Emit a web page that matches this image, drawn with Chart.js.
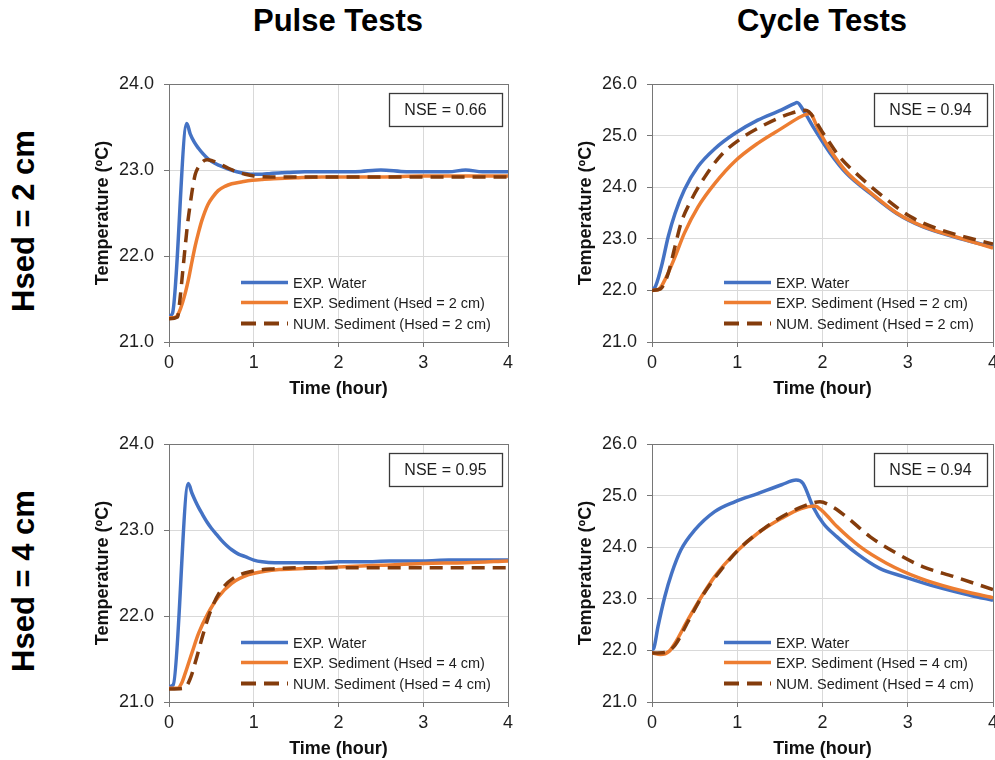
<!DOCTYPE html>
<html><head><meta charset="utf-8">
<script src="https://cdn.jsdelivr.net/npm/chart.js@4/dist/chart.umd.min.js"></script>
<style>
html,body{margin:0;padding:0;background:#fff;}
body{width:995px;height:760px;position:relative;overflow:hidden;font-family:'Liberation Sans',Arial,sans-serif;}
.panel{position:absolute;}
.panel canvas{display:block;}
.title{position:absolute;width:300px;height:40px;line-height:40px;text-align:center;font-weight:bold;font-size:31px;color:#000;white-space:nowrap;}
.row{position:absolute;width:300px;height:40px;line-height:40px;text-align:center;font-weight:bold;font-size:31px;color:#000;transform:rotate(-90deg);white-space:nowrap;}
</style></head><body>
<div class="title" style="left:188px;top:1px">Pulse Tests</div>
<div class="title" style="left:672px;top:1px">Cycle Tests</div>
<div class="row" style="left:-126px;top:201px">Hsed = 2 cm</div>
<div class="row" style="left:-126px;top:561px">Hsed = 4 cm</div>
<div class="panel" style="left:90px;top:70px"><canvas id="c1" width="430" height="330"></canvas></div>
<div class="panel" style="left:573px;top:70px"><canvas id="c2" width="422" height="330"></canvas></div>
<div class="panel" style="left:90px;top:430px"><canvas id="c3" width="430" height="330"></canvas></div>
<div class="panel" style="left:573px;top:430px"><canvas id="c4" width="422" height="330"></canvas></div>
<script>
// ---------- DATA ----------
const xTicks = [0, 1, 2, 3, 4];
const pulseYTicks = [21.0, 22.0, 23.0, 24.0];
const cycleYTicks = [21.0, 22.0, 23.0, 24.0, 25.0, 26.0];

// Pulse test, Hsed = 2 cm
const p2WaterT = [0, 0.04, 0.21, 0.25, 0.3, 0.35, 0.4, 0.45, 0.5, 0.6, 0.7, 0.8, 0.9, 1.0, 1.1, 1.2, 1.4, 1.6, 1.8, 2.0, 2.2, 2.5, 2.8, 3.0, 3.3, 3.5, 3.7, 4.0];
const p2Water  = [21.30, 21.33, 23.54, 23.42, 23.32, 23.25, 23.19, 23.14, 23.10, 23.05, 23.01, 22.98, 22.96, 22.95, 22.95, 22.96, 22.97, 22.98, 22.98, 22.98, 22.98, 23.00, 22.98, 22.98, 22.98, 23.00, 22.98, 22.98];
const p2SedT = [0, 0.08, 0.12, 0.16, 0.2, 0.23, 0.27, 0.31, 0.35, 0.39, 0.46, 0.52, 0.58, 0.66, 0.74, 0.85, 0.98, 1.1, 1.3, 1.5, 1.8, 2.0, 2.5, 3.0, 3.5, 4.0];
const p2Sed  = [21.28, 21.29, 21.35, 21.46, 21.60, 21.73, 21.93, 22.12, 22.28, 22.42, 22.60, 22.69, 22.76, 22.81, 22.84, 22.86, 22.88, 22.89, 22.90, 22.91, 22.92, 22.92, 22.92, 22.93, 22.93, 22.93];
const p2NumT = [0, 0.1, 0.13, 0.16, 0.19, 0.22, 0.25, 0.28, 0.31, 0.35, 0.4, 0.45, 0.5, 0.6, 0.7, 0.8, 0.9, 1.0, 1.2, 1.5, 2.0, 2.5, 3.0, 3.5, 4.0];
const p2Num  = [21.27, 21.29, 21.50, 21.80, 22.10, 22.38, 22.60, 22.80, 22.95, 23.04, 23.10, 23.12, 23.11, 23.07, 23.02, 22.98, 22.95, 22.93, 22.92, 22.92, 22.92, 22.92, 22.92, 22.92, 22.92];

// Pulse test, Hsed = 4 cm
const p4WaterT = [0, 0.05, 0.228, 0.27, 0.31, 0.35, 0.39, 0.45, 0.5, 0.56, 0.62, 0.68, 0.74, 0.82, 0.9, 1.0, 1.1, 1.25, 1.4, 1.6, 1.8, 2.0, 2.3, 2.6, 3.0, 3.3, 3.6, 4.0];
const p4Water  = [21.18, 21.20, 23.54, 23.43, 23.34, 23.26, 23.19, 23.09, 23.02, 22.95, 22.88, 22.82, 22.77, 22.72, 22.69, 22.65, 22.63, 22.62, 22.62, 22.62, 22.62, 22.63, 22.63, 22.64, 22.64, 22.65, 22.65, 22.65];
const p4SedT = [0, 0.1, 0.15, 0.19, 0.27, 0.35, 0.46, 0.58, 0.74, 0.94, 1.13, 1.3, 1.53, 1.8, 2.0, 2.5, 3.0, 3.5, 4.0];
const p4Sed  = [21.16, 21.16, 21.22, 21.33, 21.57, 21.80, 22.03, 22.22, 22.38, 22.48, 22.52, 22.54, 22.55, 22.56, 22.57, 22.59, 22.61, 22.62, 22.64];
const p4NumT = [0, 0.18, 0.25, 0.33, 0.4, 0.48, 0.6, 0.76, 0.98, 1.25, 1.5, 2.0, 2.5, 3.0, 3.5, 4.0];
const p4Num  = [21.15, 21.16, 21.27, 21.53, 21.78, 22.03, 22.28, 22.44, 22.52, 22.55, 22.56, 22.56, 22.56, 22.56, 22.56, 22.56];

// Cycle test, Hsed = 2 cm
const c2WaterT = [0, 0.03, 0.11, 0.19, 0.27, 0.38, 0.54, 0.74, 0.97, 1.24, 1.52, 1.67, 1.70, 1.79, 1.89, 2.09, 2.28, 2.56, 2.87, 3.18, 3.54, 4.0];
const c2Water  = [22.03, 22.05, 22.46, 23.04, 23.49, 23.95, 24.40, 24.75, 25.04, 25.30, 25.50, 25.62, 25.64, 25.45, 25.17, 24.66, 24.27, 23.88, 23.49, 23.23, 23.04, 22.84];
const c2SedT = [0, 0.08, 0.15, 0.27, 0.38, 0.54, 0.74, 0.97, 1.24, 1.52, 1.75, 1.85, 1.95, 2.09, 2.28, 2.56, 2.87, 3.18, 3.54, 4.0];
const c2Sed  = [22.00, 22.02, 22.20, 22.65, 23.11, 23.62, 24.08, 24.50, 24.85, 25.14, 25.37, 25.43, 25.12, 24.72, 24.30, 23.90, 23.50, 23.24, 23.05, 22.82];
const c2NumT = [0, 0.1, 0.19, 0.27, 0.34, 0.46, 0.62, 0.81, 1.05, 1.32, 1.63, 1.8, 2.01, 2.2, 2.44, 2.71, 3.03, 3.34, 3.73, 4.0];
const c2Num  = [22.00, 22.03, 22.33, 22.85, 23.30, 23.75, 24.20, 24.62, 24.95, 25.21, 25.43, 25.49, 25.04, 24.59, 24.20, 23.82, 23.43, 23.20, 23.01, 22.90];

// Cycle test, Hsed = 4 cm
const c4WaterT = [0, 0.02, 0.07, 0.15, 0.23, 0.34, 0.5, 0.735, 0.97, 1.24, 1.52, 1.69, 1.77, 1.89, 2.01, 2.17, 2.4, 2.67, 2.95, 3.34, 3.73, 4.0];
const c4Water  = [22.02, 22.04, 22.46, 23.04, 23.49, 23.95, 24.33, 24.69, 24.88, 25.04, 25.21, 25.30, 25.24, 24.78, 24.46, 24.20, 23.88, 23.59, 23.43, 23.23, 23.07, 22.97];
const c4SedT = [0, 0.1, 0.2, 0.27, 0.42, 0.58, 0.735, 0.97, 1.24, 1.52, 1.75, 1.91, 2.0, 2.17, 2.44, 2.75, 3.14, 3.53, 4.0];
const c4Sed  = [21.95, 21.92, 21.98, 22.14, 22.59, 23.04, 23.43, 23.88, 24.27, 24.56, 24.75, 24.80, 24.70, 24.40, 24.01, 23.69, 23.40, 23.20, 23.02];
const c4NumT = [0, 0.15, 0.27, 0.42, 0.6, 0.81, 1.05, 1.32, 1.6, 1.87, 1.97, 2.1, 2.28, 2.56, 2.87, 3.18, 3.54, 4.0];
const c4Num  = [21.95, 21.96, 22.10, 22.55, 23.08, 23.56, 24.01, 24.37, 24.66, 24.85, 24.88, 24.80, 24.59, 24.20, 23.88, 23.62, 23.43, 23.18];

const legend2 = ['EXP. Water', 'EXP. Sediment (Hsed = 2 cm)', 'NUM. Sediment (Hsed = 2 cm)'];
const legend4 = ['EXP. Water', 'EXP. Sediment (Hsed = 4 cm)', 'NUM. Sediment (Hsed = 4 cm)'];
const nseLabels = ['NSE = 0.66', 'NSE = 0.94', 'NSE = 0.95', 'NSE = 0.94'];

// ---------- STYLE ----------
const FONT = "'Liberation Sans', Arial, sans-serif";
const BLUE = '#4472C4', ORANGE = '#ED7D31', BROWN = '#843C0C';
const GRID = '#d9d9d9', AXIS = '#767676', TXT = '#1e1e1e';
const DASH = [13, 8];

const pts = (t, v) => t.map((x, i) => ({x: x, y: v[i]}));

const overlay = {
  id: 'overlay',
  afterDatasetsDraw(chart, args, opts) {
    const ctx = chart.ctx, a = chart.chartArea;
    ctx.save();
    // NSE box
    const bw = 113, bh = 33, bx = Math.round(a.right - 6 - bw), by = Math.round(a.top + 9);
    ctx.fillStyle = '#fff';
    ctx.fillRect(bx, by, bw, bh);
    ctx.strokeStyle = '#3a3a3a'; ctx.lineWidth = 1.3;
    ctx.strokeRect(bx + 0.5, by + 0.5, bw, bh);
    ctx.fillStyle = TXT; ctx.font = '16px ' + FONT;
    ctx.textAlign = 'center'; ctx.textBaseline = 'middle';
    ctx.fillText(opts.nse, bx + bw / 2, by + bh / 2 + 1);
    // legend
    const rows = [-59.5, -39.5, -18.5];
    const cols = [BLUE, ORANGE, BROWN];
    ctx.font = '14.5px ' + FONT; ctx.textAlign = 'left';
    for (let i = 0; i < 3; i++) {
      const y = a.bottom + rows[i];
      ctx.beginPath();
      ctx.strokeStyle = cols[i];
      ctx.lineWidth = i === 2 ? 4 : 3.5;
      ctx.setLineDash(i === 2 ? [15, 8] : []);
      ctx.moveTo(a.left + 72, y); ctx.lineTo(a.left + 119, y);
      ctx.stroke();
      ctx.setLineDash([]);
      ctx.fillStyle = TXT;
      ctx.fillText(opts.labels[i], a.left + 124, y + 1);
    }
    ctx.restore();
  }
};

function makePanel(id, yTicks, water, sed, num, labels, nse, padRight) {
  const yMin = yTicks[0], yMax = yTicks[yTicks.length - 1];
  return new Chart(document.getElementById(id), {
    type: 'line',
    data: {
      datasets: [
        {label: labels[2], data: num, borderColor: BROWN, borderWidth: 3.5, borderDash: DASH, pointRadius: 0, fill: false, cubicInterpolationMode: 'monotone'},
        {label: labels[1], data: sed, borderColor: ORANGE, borderWidth: 3.5, pointRadius: 0, fill: false, cubicInterpolationMode: 'monotone'},
        {label: labels[0], data: water, borderColor: BLUE, borderWidth: 3.5, pointRadius: 0, fill: false, cubicInterpolationMode: 'monotone'}
      ]
    },
    options: {
      responsive: false, animation: false, devicePixelRatio: 1,
      layout: {padding: {top: 14, right: padRight, left: 0, bottom: 0}},
      plugins: {legend: {display: false}, tooltip: {enabled: false}, overlay: {nse: nse, labels: labels}},
      scales: {
        x: {
          type: 'linear', min: xTicks[0], max: xTicks[xTicks.length - 1],
          afterBuildTicks: s => { s.ticks = xTicks.map(v => ({value: v})); },
          afterFit: s => { s.height = 58; s.paddingLeft = 0; s.paddingRight = 0; },
          ticks: {color: TXT, font: {family: FONT, size: 18}, padding: 5, maxRotation: 0, autoSkip: false, callback: v => String(v)},
          grid: {color: c => (c.tick && c.tick.value === xTicks[xTicks.length - 1]) ? AXIS : GRID, tickColor: AXIS, tickLength: 5, lineWidth: 1},
          border: {color: AXIS, width: 1},
          title: {display: true, text: 'Time (hour)', color: '#111', font: {family: FONT, size: 18, weight: 'bold'}, padding: {top: 0, bottom: 0}}
        },
        y: {
          type: 'linear', min: yMin, max: yMax,
          afterBuildTicks: s => { s.ticks = yTicks.map(v => ({value: v})); },
          afterFit: s => { s.width = 79; s.paddingTop = 0; s.paddingBottom = 0; },
          ticks: {color: TXT, font: {family: FONT, size: 18}, padding: 10, autoSkip: false, callback: v => Number(v).toFixed(1)},
          grid: {color: c => (c.tick && c.tick.value === yMax) ? AXIS : GRID, tickColor: AXIS, tickLength: 5, lineWidth: 1},
          border: {color: AXIS, width: 1},
          title: {display: true, text: 'Temperature (ºC)', color: '#111', font: {family: FONT, size: 18, weight: 'bold'}, padding: {top: 2, bottom: 0}}
        }
      }
    },
    plugins: [overlay]
  });
}

makePanel('c1', pulseYTicks, pts(p2WaterT, p2Water), pts(p2SedT, p2Sed), pts(p2NumT, p2Num), legend2, nseLabels[0], 12);
makePanel('c2', cycleYTicks, pts(c2WaterT, c2Water), pts(c2SedT, c2Sed), pts(c2NumT, c2Num), legend2, nseLabels[1], 2);
makePanel('c3', pulseYTicks, pts(p4WaterT, p4Water), pts(p4SedT, p4Sed), pts(p4NumT, p4Num), legend4, nseLabels[2], 12);
makePanel('c4', cycleYTicks, pts(c4WaterT, c4Water), pts(c4SedT, c4Sed), pts(c4NumT, c4Num), legend4, nseLabels[3], 2);
</script>
</body></html>
